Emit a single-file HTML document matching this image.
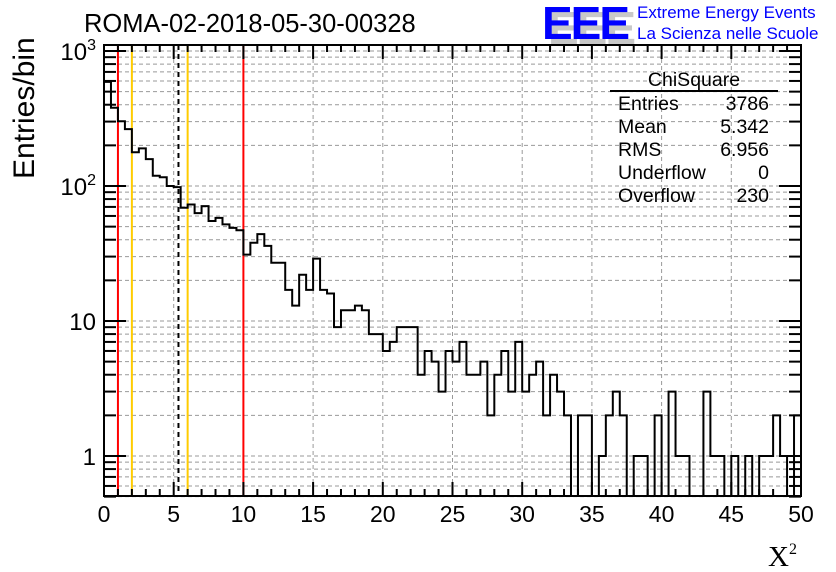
<!DOCTYPE html>
<html><head><meta charset="utf-8">
<style>
html,body{margin:0;padding:0;background:#fff;}
svg{display:block;font-family:"Liberation Sans",sans-serif;}
</style></head>
<body>
<svg id="chart" width="836" height="572" viewBox="0 0 836 572" xmlns="http://www.w3.org/2000/svg">
<rect width="836" height="572" fill="#fff"/>
<g id="grid"></g>
<g id="vlines"></g>
<g id="hist"></g>
<g id="axes"></g>
<text x="84" y="32" font-size="25.5">ROMA-02-2018-05-30-00328</text>
<text transform="translate(34,179) rotate(-90)" font-size="30">Entries/bin</text>
<text x="768" y="566" font-size="29" font-family="Liberation Serif, serif">X<tspan font-size="16" dy="-12">2</tspan></text>
<g>
<text x="548" y="44" font-size="46" font-weight="bold" fill="#c8c8c8" letter-spacing="-2">EEE</text>
<text x="542" y="39" font-size="46" font-weight="bold" fill="#0000ff" letter-spacing="-2">EEE</text>
<text x="637" y="18" font-size="17" fill="#0000ff">Extreme Energy Events</text>
<text x="637" y="39" font-size="17" fill="#0000ff">La Scienza nelle Scuole</text>
</g>
<g font-size="19.5">
<text x="694" y="86" text-anchor="middle">ChiSquare</text>
<line x1="610" y1="91" x2="778" y2="91" stroke="#000" stroke-width="2"/>
<text x="618" y="110">Entries</text><text x="769" y="110" text-anchor="end">3786</text>
<text x="618" y="133">Mean</text><text x="769" y="133" text-anchor="end">5.342</text>
<text x="618" y="156">RMS</text><text x="769" y="156" text-anchor="end">6.956</text>
<text x="618" y="179">Underflow</text><text x="769" y="179" text-anchor="end">0</text>
<text x="618" y="202">Overflow</text><text x="769" y="202" text-anchor="end">230</text>
</g>
</svg>
<script>
const binWidth = 0.5;
const counts = [590,380,302,264,178,190,158,119,116,100,98,69,73,63,71,55,58,52,49,47,31,38,44,36,27,27,17,13,22,17,29,17,16,9,12,12,13,12,8,8,6,7,9,9,9,4,6,5,3,6,5,7,4,4,5,2,4,6,3,7,3,4,5,2,4,3,2,0,2,2,0,1,2,3,2,0,1,1,0,2,0,3,1,1,0,0,3,1,1,0,1,0,1,0,1,1,2,1,0,2];
const xTicks = [0,5,10,15,20,25,30,35,40,45,50];
const yDecades = [1,10,100,1000];
const yLabels = ["1","10","10^2","10^3"];
const refLines = [{x:1,c:"#ff0000",d:""},{x:2,c:"#ffcc00",d:""},{x:5.342,c:"#000",d:"5,4"},{x:6,c:"#ffcc00",d:""},{x:10,c:"#ff0000",d:""}];

const X0=104,X1=801,Y0=496,YT=45;
const xMin=0,xMax=50;
const yMinV=0.5,yMaxV=1100;
function sx(v){return X0+(v-xMin)/(xMax-xMin)*(X1-X0);}
function sy(v){return 456-135*Math.log10(v);}
const NS="http://www.w3.org/2000/svg";
function mk(tag,parent,attrs){const e=document.createElementNS(NS,tag);for(const k in attrs)e.setAttribute(k,attrs[k]);parent.appendChild(e);return e;}

const grid=document.getElementById('grid');
xTicks.forEach(t=>{
  const l=mk('line',grid,{x1:sx(t),x2:sx(t),y1:YT,y2:Y0,stroke:'#999','stroke-dasharray':'4,3','stroke-width':1});
  
  
});
yDecades.forEach(d=>{
  for(let m=1;m<=9;m++){
    const v=d*m; if(v<yMinV||v>yMaxV) continue;
    const l=mk('line',grid,{x1:X0,x2:X1,y1:sy(v),y2:sy(v),stroke:'#999','stroke-dasharray':'4,3','stroke-width':1});
    
    
  }
});
[0.5,0.6,0.7,0.8,0.9].forEach(v=>{
  const l=mk('line',grid,{x1:X0,x2:X1,y1:sy(v),y2:sy(v),stroke:'#999','stroke-dasharray':'4,3','stroke-width':1});
  
  
});

const vl=document.getElementById('vlines');
refLines.forEach(r=>{
  const a={x1:sx(r.x),x2:sx(r.x),y1:YT,y2:Y0,stroke:r.c,'stroke-width':2};
  if(r.d)a['stroke-dasharray']=r.d;
  const l=mk('line',vl,a);
  
  
});

const hist=document.getElementById('hist');
let d='';
function cy(c){return c<=0?Y0:Math.max(sy(c),YT);}
counts.forEach((c,i)=>{
  const xa=sx(i*binWidth),xb=sx((i+1)*binWidth),y=cy(c);
  d+=(i===0?'M'+xa+','+y:'L'+xa+','+y)+'L'+xb+','+y;
});
const p=mk('path',hist,{d:d,fill:'none',stroke:'#000','stroke-width':2});



const ax=document.getElementById('axes');
const fr=mk('rect',ax,{x:X0,y:YT,width:X1-X0,height:Y0-YT,fill:'none',stroke:'#000','stroke-width':2});


for(let v=0;v<=50;v+=1){
  const major=v%5===0;const len=major?14:7;
  mk('line',ax,{x1:sx(v),x2:sx(v),y1:Y0,y2:Y0-len,stroke:'#000','stroke-width':2});
  mk('line',ax,{x1:sx(v),x2:sx(v),y1:YT,y2:YT+len,stroke:'#000','stroke-width':2});
}
xTicks.forEach(t=>{
  const tx=mk('text',ax,{x:sx(t),y:522,'font-size':23,'text-anchor':'middle'});
  tx.textContent=t;
  
  
});
[0.5,0.6,0.7,0.8,0.9].concat([].concat(...yDecades.map(dd=>[1,2,3,4,5,6,7,8,9].map(m=>dd*m)))).forEach(v=>{
  if(v<yMinV||v>yMaxV)return;
  const major=yDecades.includes(v);const len=major?22:12;
  mk('line',ax,{x1:X0,x2:X0+len,y1:sy(v),y2:sy(v),stroke:'#000','stroke-width':2});
  mk('line',ax,{x1:X1,x2:X1-len,y1:sy(v),y2:sy(v),stroke:'#000','stroke-width':2});
});
yDecades.forEach((v,i)=>{
  const lab=yLabels[i];
  const t=mk('text',ax,{x:96,y:sy(v)+9,'font-size':24,'text-anchor':'end'});
  
  
  if(lab.indexOf('^')>0){
    const [b,e]=lab.split('^');
    t.textContent=b;
    const ts=mk('tspan',t,{'font-size':16,dy:-10});ts.textContent=e;
  } else t.textContent=lab;
});
</script>
</body></html>
